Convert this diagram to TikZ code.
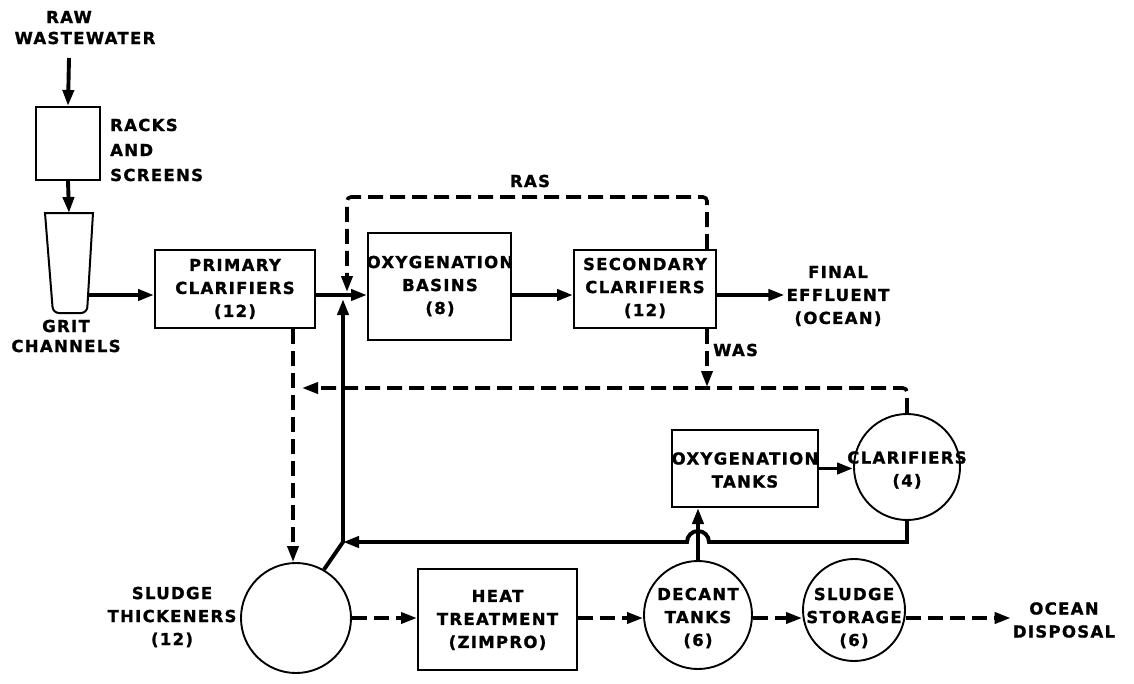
\documentclass[tikz,border=0pt]{standalone}
\usepackage{fontspec}
\usetikzlibrary{arrows.meta}
\newfontfamily\labf[LetterSpace=8, BoldFeatures={FakeBold=1.2}]{DejaVu Sans}
\begin{document}
\begin{tikzpicture}[x=1pt,y=-1pt,
  lbl/.style={font=\labf\bfseries\fontsize{16.5}{23}\selectfont, align=center, inner sep=2pt},
  box/.style={draw, line width=2pt, rectangle, inner sep=0pt},
  tank/.style={draw, line width=1.9pt, circle, inner sep=0pt},
  flow/.style={line width=3.9pt, -{Triangle[length=16pt,width=11pt]}},
  dflow/.style={line width=3.6pt, dash pattern=on 15pt off 7pt, -{Triangle[length=16pt,width=11pt]}},
]
\useasboundingbox (0,0) rectangle (1134,683);
\coordinate (m) at (0,295);
\coordinate (b) at (0,618);
\coordinate (jn) at (343,542);

% top left
\node[lbl] (raw) at (69,17) {RAW};
\node[lbl] (ww) at (85,38) {WASTEWATER};
\coordinate (rawend) at (69,58);
\node[box, minimum width=64pt, minimum height=73pt] (racks) at (68,143.5) {};
\node[lbl, anchor=west, align=left, font=\labf\bfseries\fontsize{16.5}{25}\selectfont] (rackst) at (108,150) {RACKS\\AND\\SCREENS};
\draw[line width=2pt] (45,213) -- (93,213) [rounded corners=6pt] -- (87,313) -- (53,313) [sharp corners] -- (45,213) -- cycle;
\coordinate (gritTop) at (69,213);
\coordinate (gritOut) at (88.5,295);
\node[lbl, font=\labf\bfseries\fontsize{16.5}{20}\selectfont] (grit) at (66,336) {GRIT\\CHANNELS};
\draw[flow] (rawend) -- (racks.north);
\draw[flow] (racks.south) -- (gritTop);

% main line
\node[box, minimum width=160pt, minimum height=78pt] (prim) at (235,289) {};
\node[lbl] (primt) at (235,289) {PRIMARY\\CLARIFIERS\\(12)};
\node[box, minimum width=143pt, minimum height=107pt] (ox) at (439.5,286.5) {};
\node[lbl] (oxt) at (440,286) {OXYGENATION\\BASINS\\(8)};
\node[box, minimum width=142pt, minimum height=78pt] (sec) at (645,289) {};
\node[lbl] (sect) at (645,288) {SECONDARY\\CLARIFIERS\\(12)};
\node[lbl] (final) at (838,296) {FINAL\\EFFLUENT\\(OCEAN)};
\draw[flow] (gritOut) -- (gritOut -| prim.west);
\draw[flow] (prim.east |- m) -- (ox.west |- m);
\draw[flow] (ox.east |- m) -- (sec.west |- m);
\draw[flow] (sec.east |- m) -- (final.west |- m);

% RAS / WAS
\coordinate (rasS) at ([xshift=-10pt]sec.north east);
\coordinate (wasS) at ([xshift=-10pt]sec.south east);
\draw[dflow, rounded corners=4pt] (rasS) |- (347,197) -- (347,292);
\node[lbl] (ras) at (530,181) {RAS};
\draw[dflow] (wasS) -- ([yshift=-58pt]wasS);
\node[lbl, anchor=west] (was) at (711,350) {WAS};

% thickener
\node[tank, minimum size=110pt] (thick) at (296,618) {};
\node[lbl] (thickt) at (172,617) {SLUDGE\\THICKENERS\\(12)};
\coordinate (pd) at ([xshift=-23pt]prim.south east);
\draw[dflow] (pd) -- (pd |- thick.north);
\draw[flow] (thick.60) -- (jn) -- (343,299);

% side treatment
\node[box, minimum width=146pt, minimum height=77pt] (oxyt) at (745,468.5) {};
\node[lbl] (oxytt) at (745,470) {OXYGENATION\\TANKS};
\node[tank, minimum size=106pt] (clar) at (907,467) {};
\node[lbl] (clart) at (907,470) {CLARIFIERS\\(4)};
\draw[flow] (oxyt.east) -- (oxyt.east -| clar.west);
\draw[dflow, rounded corners=4pt] (clar.north) |- (302,388);
\draw[flow] (clar.south) -- (clar.south |- jn) -- (709,542) arc[start angle=0, end angle=180, radius=11pt] -- (jn);

% bottom row
\node[box, minimum width=159pt, minimum height=101pt] (heat) at (497.5,619.5) {};
\node[lbl] (heatt) at (497.5,620) {HEAT\\TREATMENT\\(ZIMPRO)};
\node[tank, minimum size=108pt] (decant) at (698,615) {};
\node[lbl] (decantt) at (698,618) {DECANT\\TANKS\\(6)};
\node[tank, minimum size=102pt] (stor) at (854,610) {};
\node[lbl] (stort) at (854,618) {SLUDGE\\STORAGE\\(6)};
\node[lbl] (ocean) at (1064,620) {OCEAN\\DISPOSAL};
\draw[flow] (decant.north) -- (decant.north |- oxyt.south);
\draw[dflow] (thick.east |- b) -- (heat.west |- b);
\draw[dflow] (heat.east |- b) -- (decant.west |- b);
\draw[dflow] (decant.east |- b) -- (stor.west |- b);
\draw[dflow] (stor.east |- b) -- (ocean.west |- b);
\end{tikzpicture}
\end{document}
